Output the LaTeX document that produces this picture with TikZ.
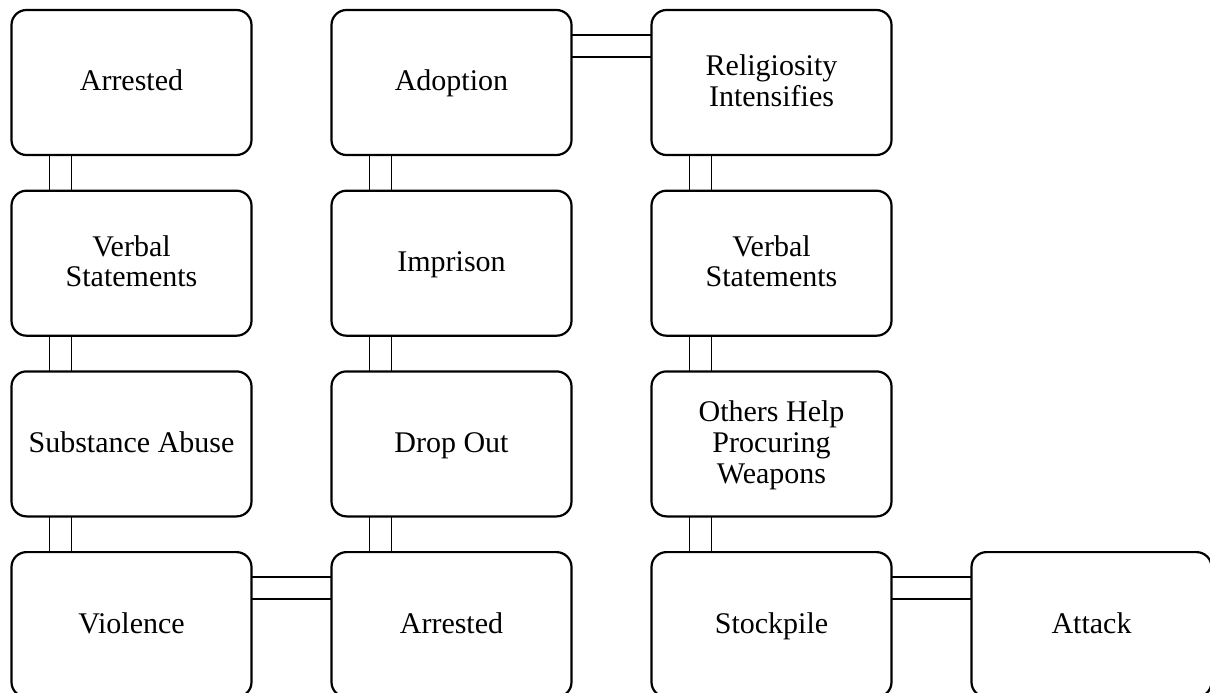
\documentclass[tikz,border=0pt]{standalone}
\usepackage{fontspec}
\setmainfont{Liberation Serif}
% line strut: 23.25pt above, 6.25pt below the baseline
\newcommand{\tstrut}{\rule[-6.25pt]{0pt}{29.5pt}}
\begin{document}
\begin{tikzpicture}[x=1pt,y=-1pt,
  stage/.style={draw, line width=2.2pt, rounded corners=15pt, minimum width=240pt,
    minimum height=145pt, inner sep=0pt, outer sep=0pt, align=center,
    font=\fontsize{30}{29.5}\selectfont},
  link/.style={line width=1.6pt}]
\useasboundingbox (0,0) rectangle (1210,693);
\clip (0,0) rectangle (1210,693);
% column x-centres and row y-centres
\def\ca{131.5}\def\cb{451.5}\def\cc{771.5}\def\cd{1091.5}
\def\ra{82.5}\def\rb{263.2}\def\rc{443.9}\def\rd{624.6}
\node[stage] (arrA)  at (\ca,\ra) {\tstrut Arrested};
\node[stage] (verbA) at (\ca,\rb) {\tstrut Verbal\\\tstrut Statements};
\node[stage] (subst) at (\ca,\rc) {\tstrut Substance Abuse};
\node[stage] (viol)  at (\ca,\rd) {\tstrut Violence};
\node[stage] (adopt) at (\cb,\ra) {\tstrut Adoption};
\node[stage] (impr)  at (\cb,\rb) {\tstrut Imprison};
\node[stage] (drop)  at (\cb,\rc) {\tstrut Drop Out};
\node[stage] (arrB)  at (\cb,\rd) {\tstrut Arrested};
\node[stage] (relig) at (\cc,\ra) {\tstrut Religiosity\\\tstrut Intensifies};
\node[stage] (verbB) at (\cc,\rb) {\tstrut Verbal\\\tstrut Statements};
\node[stage] (help)  at (\cc,\rc) {\tstrut Others Help\\\tstrut Procuring\\\tstrut Weapons};
\node[stage] (stock) at (\cc,\rd) {\tstrut Stockpile};
\node[stage] (atk)   at (\cd,\rd) {\tstrut Attack};
% vertical double links
\foreach \u/\v in {arrA/verbA, verbA/subst, subst/viol, adopt/impr, impr/drop,
                   drop/arrB, relig/verbB, verbB/help, help/stock}{
  \draw[link] ([xshift=38pt]\u.south west) -- ([xshift=38pt]\v.north west);
  \draw[link] ([xshift=60pt]\u.south west) -- ([xshift=60pt]\v.north west);
}
% horizontal double links
\foreach \u/\v in {viol/arrB, adopt/relig, stock/atk}{
  \draw[link] ([yshift=-25pt]\u.north east) -- ([yshift=-25pt]\v.north west);
  \draw[link] ([yshift=-47pt]\u.north east) -- ([yshift=-47pt]\v.north west);
}
\end{tikzpicture}
\end{document}
